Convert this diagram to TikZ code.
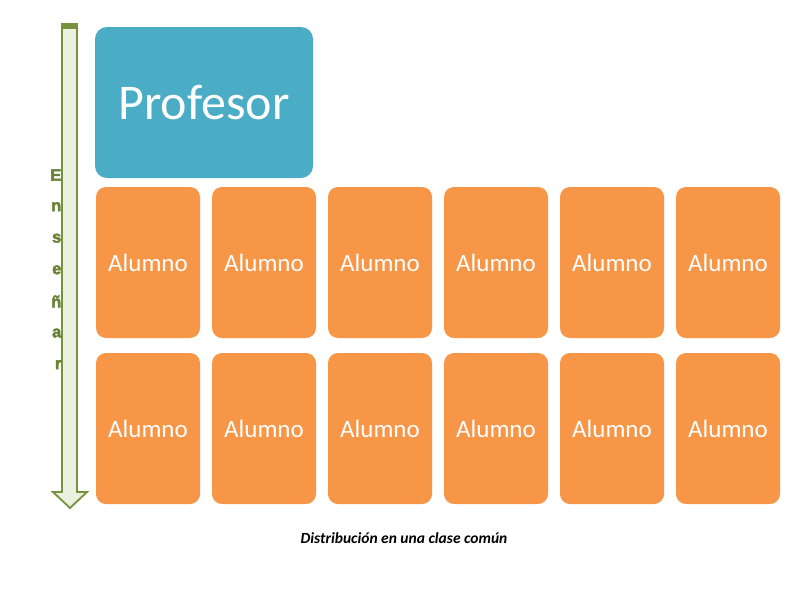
\documentclass[tikz,border=0pt]{standalone}
\usepackage{fontspec}
\setmainfont{Carlito}
\newfontfamily\arialbold[FakeBold=2.5]{Liberation Sans Bold}
\definecolor{profblue}{HTML}{4BACC6}
\definecolor{alorange}{HTML}{F79646}
\definecolor{arrgreen}{HTML}{76923C}
\definecolor{lettergreen}{HTML}{6A8234}
\definecolor{arrfill}{HTML}{EBF1DE}
\begin{document}
\begin{tikzpicture}[x=1pt,y=-1pt,
  prof/.style={fill=profblue, rounded corners=12pt, minimum width=218pt, minimum height=151pt, inner sep=0pt, text=white, font=\fontsize{50}{56}\selectfont},
  alum/.style={fill=alorange, rounded corners=10pt, minimum width=104pt, minimum height=151pt, inner sep=0pt, text=white, font=\fontsize{25}{28}\selectfont},
  letter/.style={text=lettergreen, font=\fontsize{16.5}{18}\arialbold\selectfont, anchor=east, inner sep=0pt},
  caption/.style={font=\fontsize{15.5}{17}\selectfont\bfseries\itshape, inner sep=0pt}]
\useasboundingbox (0,0) rectangle (800,600);
\fill[white] (0,0) rectangle (800,600);
% arrow
\draw[arrgreen, line width=1.8pt, fill=arrfill, line join=miter]
  (62,24) -- (77,24) -- (77,492) -- (87,492) -- (70,508) -- (53,492) -- (62,492) -- cycle;
\fill[arrgreen] (62,24) rectangle (77,29);
% letters
\foreach \l [count=\i from 0] in {E,n,s,e,ñ,a,r}
  \node[letter] (L\i) at (61.5,{175+31.6*\i}) {\l};
% Profesor
\node[prof] (prof) at (204,102.5) {Profesor};
% Alumnos
\foreach \c in {0,...,5}{
  \node[alum] (a1\c) at ({148+116*\c},262.5) {Alumno};
  \node[alum] (a2\c) at ({148+116*\c},428.5) {Alumno};
}
\node[caption] (cap) at (404,538) {Distribución en una clase común};
\end{tikzpicture}
\end{document}
